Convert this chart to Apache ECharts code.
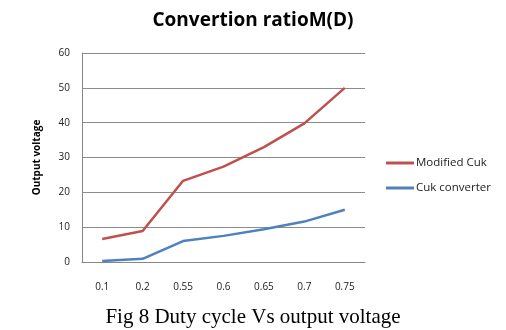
<!DOCTYPE html>
<html><head><meta charset="utf-8">
<script src="https://cdn.jsdelivr.net/npm/echarts@6/dist/echarts.min.js"></script>
<style>html,body{margin:0;padding:0;background:#fff}#c{width:506px;height:330px}</style>
</head><body><div id="c"></div>
<script>
const categories = ['0.1','0.2','0.55','0.6','0.65','0.7','0.75'];
const modifiedCuk = [6.6, 8.9, 23.3, 27.4, 33.0, 39.8, 50.0];
const cukConverter = [0.3, 0.9, 6.0, 7.5, 9.4, 11.6, 15.0];
const yTicks = [0, 10, 20, 30, 40, 50, 60];

const chart = echarts.init(document.getElementById('c'));
chart.setOption({
  animation: false,
  backgroundColor: '#fff',
  title: [{
    text: 'Convertion ratioM(D)', left: 'center', top: 6,
    textStyle: {fontFamily: 'Open Sans', fontWeight: 'bold', fontSize: 19, color: '#000'}
  }, {
    text: 'Fig 8 Duty cycle Vs output voltage', left: 'center', top: 302,
    textStyle: {fontFamily: 'Liberation Serif', fontWeight: 'normal', fontSize: 21, color: '#000'}
  }],
  legend: {
    orient: 'vertical', left: 381, top: 152, itemGap: 13,
    itemWidth: 28, itemHeight: 3, icon: 'rect',
    textStyle: {fontFamily: 'Open Sans', fontSize: 11.5, color: '#222', padding: [0,0,0,-3]},
    data: ['Modified Cuk', 'Cuk converter']
  },
  grid: {left: 82, right: 141, top: 53, bottom: 68},
  xAxis: {
    type: 'category', data: categories, boundaryGap: true,
    axisLine: {lineStyle: {color: '#868686', width: 1}},
    axisTick: {show: false},
    axisLabel: {margin: 20, fontFamily: 'Open Sans', fontSize: 10, color: '#222'}
  },
  yAxis: {
    type: 'value', min: yTicks[0], max: yTicks[yTicks.length-1], interval: 10,
    name: 'Output voltage', nameLocation: 'middle', nameGap: 40,
    nameTextStyle: {fontFamily: 'Open Sans', fontWeight: 'bold', fontSize: 10, color: '#000'},
    axisLine: {show: true, lineStyle: {color: '#868686', width: 1}},
    axisTick: {show: false},
    splitLine: {lineStyle: {color: '#8c8c8c', width: 1}},
    axisLabel: {margin: 12, fontFamily: 'Open Sans', fontSize: 10, color: '#222'}
  },
  series: [{
    name: 'Modified Cuk', type: 'line', data: modifiedCuk, showSymbol: false, symbol: 'none',
    lineStyle: {color: '#C0504D', width: 2.5}, itemStyle: {color: '#C0504D'}
  }, {
    name: 'Cuk converter', type: 'line', data: cukConverter, showSymbol: false, symbol: 'none',
    lineStyle: {color: '#4F81BD', width: 2.5}, itemStyle: {color: '#4F81BD'}
  }]
});
</script></body></html>
